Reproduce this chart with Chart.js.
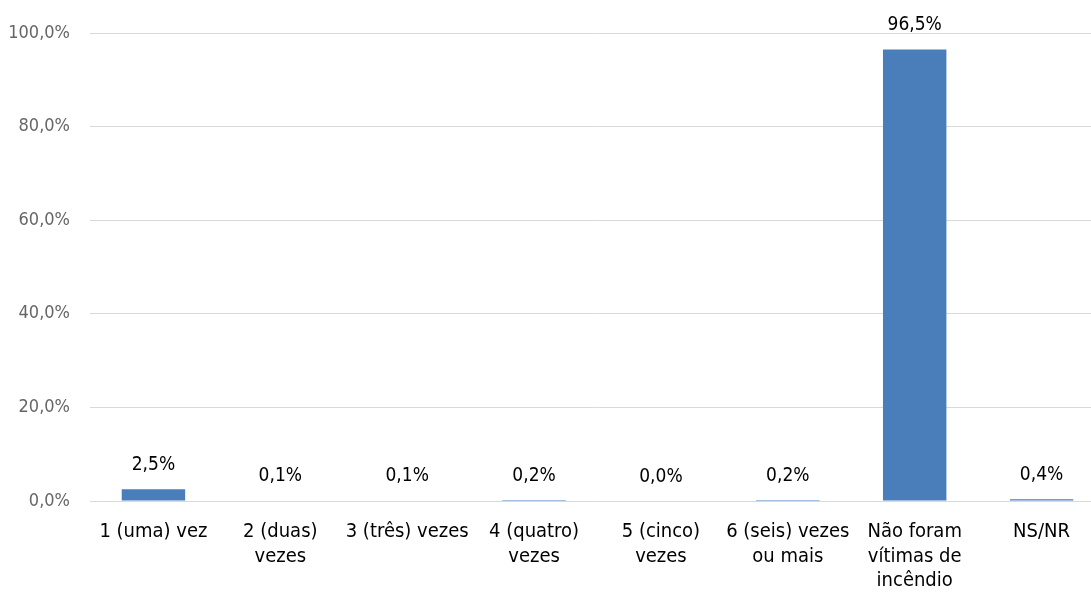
<!DOCTYPE html>
<html>
<head>
<meta charset="utf-8">
<script src="https://cdn.jsdelivr.net/npm/chart.js@4/dist/chart.umd.min.js"></script>
<style>
    html, body { margin: 0; padding: 0; background: #fff; }
    #wrap { width: 1091px; height: 592px; overflow: hidden; position: relative; }
    canvas { display: block; }
</style>
</head>
<body>
<div id="wrap"><canvas id="incendioChart" width="1105" height="592"></canvas></div>
<script>
// categories and values
const categories = [
    ['1 (uma) vez'],
    ['2 (duas)', 'vezes'],
    ['3 (três) vezes'],
    ['4 (quatro)', 'vezes'],
    ['5 (cinco)', 'vezes'],
    ['6 (seis) vezes', 'ou mais'],
    ['Não foram', 'vítimas de', 'incêndio'],
    ['NS/NR']
];
const percentages = [2.5, 0.1, 0.1, 0.2, 0.0, 0.2, 96.5, 0.4];
const yTicks = [0, 20, 40, 60, 80, 100];

const FONT = "'Liberation Sans Narrow', 'DejaVu Sans Condensed', sans-serif";

function fmt(v, dec) {
    return v.toFixed(dec).replace('.', ',') + '%';
}

// value labels above each bar
const barLabels = {
    id: 'barLabels',
    afterDatasetsDraw(chart) {
        const ctx = chart.ctx;
        const meta = chart.getDatasetMeta(0);
        ctx.save();
        ctx.font = '19px ' + FONT;
        ctx.fillStyle = '#000';
        ctx.textAlign = 'center';
        ctx.textBaseline = 'middle';
        meta.data.forEach(function (bar, i) {
            ctx.fillText(fmt(percentages[i], 1), bar.x, bar.y - 24);
        });
        ctx.restore();
    }
};

const ctx = document.getElementById('incendioChart').getContext('2d');
new Chart(ctx, {
    type: 'bar',
    data: {
        labels: categories,
        datasets: [{
            data: percentages,
            backgroundColor: '#4a7ebb',
            borderWidth: 0,
            categoryPercentage: 1.0,
            barPercentage: 0.5
        }]
    },
    options: {
        responsive: false,
        animation: false,
        layout: { padding: { top: 33, right: 0, left: 0, bottom: 0 } },
        plugins: {
            legend: { display: false },
            tooltip: { enabled: false }
        },
        scales: {
            x: {
                grid: { display: false, drawTicks: false },
                border: { display: false },
                ticks: {
                    color: '#000',
                    font: { family: FONT, size: 20, lineHeight: 1.22 },
                    padding: 19,
                    maxRotation: 0,
                    autoSkip: false
                },
                afterFit: function (scale) { scale.height = 91; }
            },
            y: {
                min: 0,
                max: 100,
                afterBuildTicks: function (scale) {
                    scale.ticks = yTicks.map(v => ({ value: v }));
                },
                grid: { color: '#d9d9d9', lineWidth: 1, drawTicks: false },
                border: { display: false },
                ticks: {
                    color: '#666',
                    font: { family: FONT, size: 18 },
                    padding: 20,
                    callback: v => fmt(v, 1)
                },
                afterFit: function (scale) { scale.width = 90; }
            }
        }
    },
    plugins: [barLabels]
});
</script>
</body>
</html>
